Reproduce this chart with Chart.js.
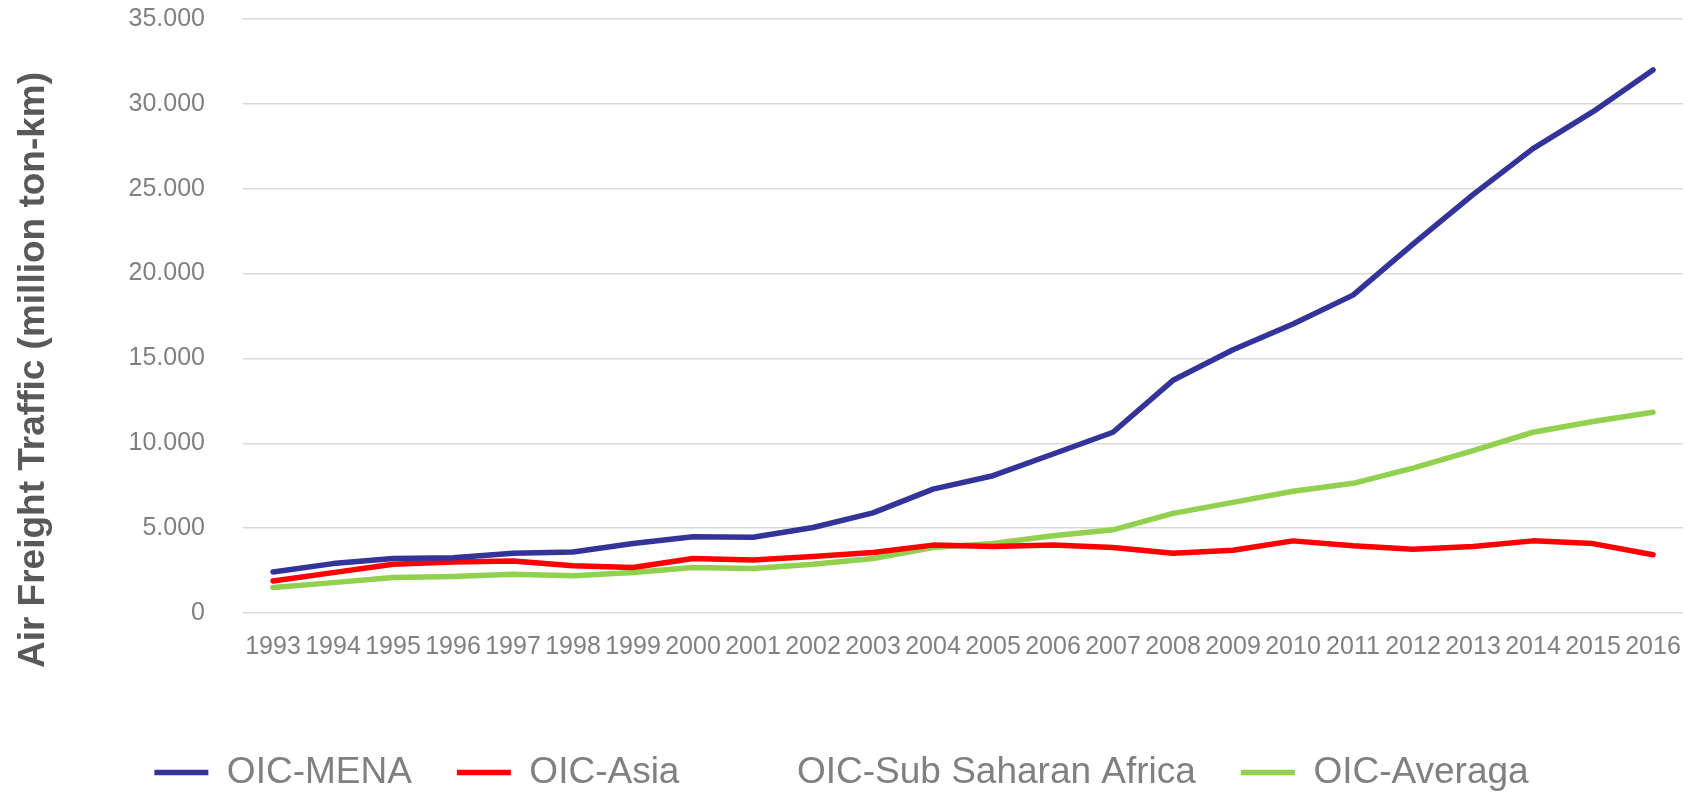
<!DOCTYPE html>
<html>
<head>
<meta charset="utf-8">
<script src="https://cdn.jsdelivr.net/npm/chart.js@4.4.0/dist/chart.umd.min.js"></script>
<style>
    body { margin: 0; background: #fff; }
    .wrap { width: 1692px; height: 792px; position: relative; }
</style>
</head>
<body>
<div class="wrap"><canvas id="freight"></canvas></div>
<script>
var years = ['1993', '1994', '1995', '1996', '1997', '1998', '1999', '2000', '2001', '2002', '2003', '2004',
    '2005', '2006', '2007', '2008', '2009', '2010', '2011', '2012', '2013', '2014', '2015', '2016'];
var mena = [2420, 2910, 3210, 3250, 3520, 3600, 4090, 4490, 4460, 5040, 5900, 7300,
    8090, 9370, 10650, 13710, 15510, 17030, 18730, 21730, 24650, 27360, 29540, 32000];
var asia = [1890, 2380, 2870, 3010, 3070, 2780, 2680, 3210, 3130, 3330, 3560, 4000,
    3920, 4000, 3860, 3520, 3700, 4250, 3960, 3760, 3920, 4250, 4090, 3430];
var subSaharan = [];
var average = [1500, 1790, 2090, 2150, 2280, 2190, 2380, 2680, 2620, 2870, 3210, 3860,
    4090, 4550, 4900, 5870, 6520, 7170, 7640, 8540, 9570, 10650, 11280, 11830];
var yTicks = [0, 5000, 10000, 15000, 20000, 25000, 30000, 35000];
var yTitle = 'Air Freight Traffic (million ton-km)';

var font = "'Liberation Sans', Arial, sans-serif";

function series(label, data, color) {
    return {
        label: label,
        data: data,
        borderColor: color,
        backgroundColor: color,
        borderWidth: 5.5,
        borderCapStyle: 'round',
        borderJoinStyle: 'round',
        pointRadius: 0,
        tension: 0,
        fill: false
    };
}

// rotated axis title, placed like the original (centred a bit below the plot)
var sideTitle = {
    id: 'sideTitle',
    afterDraw: function (chart) {
        var c = chart.ctx;
        c.save();
        c.translate(34, 370);
        c.rotate(-Math.PI / 2);
        c.font = 'bold 37px ' + font;
        c.fillStyle = '#595959';
        c.textAlign = 'center';
        c.textBaseline = 'middle';
        c.fillText(yTitle, 0, 0);
        c.restore();
    }
};

var ctx = document.getElementById('freight').getContext('2d');
var freightChart = new Chart(ctx, {
    type: 'line',
    data: {
        labels: years,
        datasets: [
            series('OIC-MENA', mena, '#333399'),
            series('OIC-Asia', asia, '#ff0000'),
            series('OIC-Sub Saharan Africa', subSaharan, 'rgba(0,0,0,0)'),
            series('OIC-Averaga', average, '#92d050')
        ]
    },
    options: {
        responsive: true,
        maintainAspectRatio: false,
        animation: false,
        layout: { padding: { top: 19, right: 9, left: 0, bottom: -9 } },
        plugins: {
            tooltip: { enabled: false },
            legend: {
                position: 'bottom',
                labels: {
                    usePointStyle: true,
                    pointStyle: 'line',
                    pointStyleWidth: 54,
                    padding: 45,
                    color: '#808080',
                    font: { family: font, size: 37 }
                }
            }
        },
        scales: {
            x: {
                offset: true,
                grid: { display: false },
                border: { display: false },
                ticks: {
                    color: '#808080',
                    font: { family: font, size: 25 },
                    padding: 11,
                    maxRotation: 0,
                    autoSkip: false
                },
                afterFit: function (scale) { scale.height = 96; }
            },
            y: {
                min: 0,
                max: 35000,
                afterBuildTicks: function (scale) {
                    scale.ticks = yTicks.map(function (v) { return { value: v }; });
                },
                grid: { color: '#d9d9d9', lineWidth: 1.5, drawTicks: false },
                border: { display: false },
                ticks: {
                    color: '#808080',
                    font: { family: font, size: 25 },
                    padding: 38,
                    callback: function (v) {
                        return String(v).replace(/\B(?=(\d{3})+(?!\d))/g, '.');
                    }
                },
                afterFit: function (scale) {
                    scale.width = 243;
                    scale.paddingTop = 15;
                    scale.paddingBottom = 15;
                }
            }
        }
    },
    plugins: [sideTitle]
});
</script>
</body>
</html>
